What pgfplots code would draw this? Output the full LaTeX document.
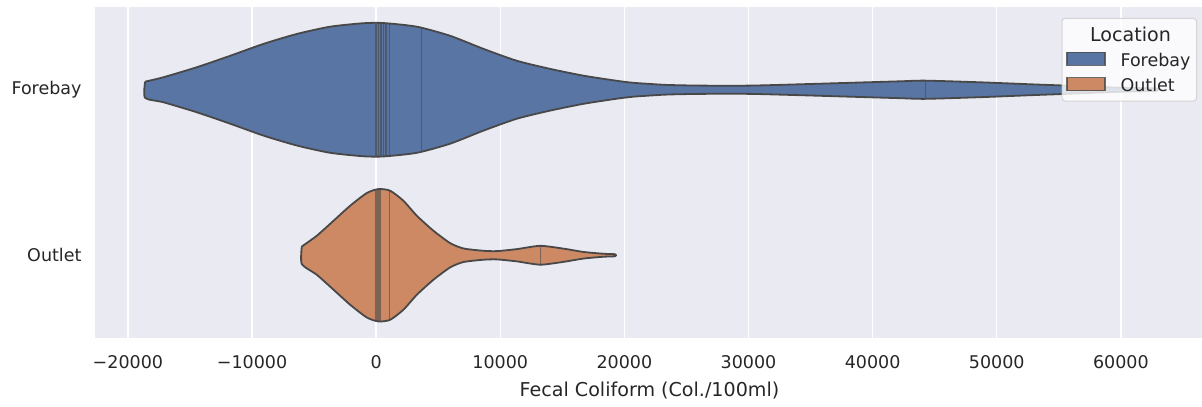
\documentclass[border=0pt]{standalone}
\usepackage{pgfplots}
\pgfplotsset{compat=1.18}
\usepackage{fontspec}
\setmainfont{DejaVu Sans}
\definecolor{bgc}{RGB}{234,234,242}
\definecolor{fb}{RGB}{89,117,164}
\definecolor{ol}{RGB}{204,137,99}
\definecolor{edge}{RGB}{72,72,72}
\definecolor{txt}{RGB}{38,38,38}
\definecolor{legframe}{RGB}{204,204,204}
\pgfplotsset{mypatch/.style={legend image code/.code={\draw[##1, sharp corners, fill opacity=1] (0pt,-5pt) rectangle (38pt,8pt);}}}
\begin{document}
\begin{tikzpicture}
\begin{axis}[
  scale only axis, width=1109pt, height=331pt,
  xmin=-22650, xmax=66700, ymin=-0.5, ymax=1.5,
  axis background/.style={fill=bgc},
  axis line style={draw=none},
  major tick length=0pt,
  scaled x ticks=false,
  xtick={-20000,-10000,0,10000,20000,30000,40000,50000,60000},
  xticklabels={−20000,−10000,0,10000,20000,30000,40000,50000,60000},
  ytick={0,1}, yticklabels={Outlet,Forebay},
  xmajorgrids, ymajorgrids=false,
  grid style={white, line width=1.5pt},
  tick label style={font=\fontsize{17.5}{20}\selectfont, text=txt},
  xticklabel style={anchor=center, yshift=-24pt},
  yticklabel style={anchor=east, xshift=-10pt},
  xlabel={Fecal Coliform (Col./100ml)},
  xlabel style={font=\fontsize{19.1}{22}\selectfont, text=txt, at={(rel axis cs:0.5,0)}, anchor=center, yshift=-52pt},
  legend cell align=left,
  legend style={at={(rel axis cs:0.99369,0.96677)}, anchor=north east,
    fill=white, fill opacity=0.8, draw opacity=0.8, text opacity=1,
    draw=legframe, line width=1pt, rounded corners=3pt,
    font=\fontsize{17.5}{20}\selectfont, text=txt,
    inner xsep=4pt, inner ysep=6pt, row sep=6.5pt,
    /tikz/every odd column/.append style={column sep=13pt}},
]
% Forebay violin
\addplot[fill=fb, draw=edge, line width=1.8pt, line join=round, smooth, tension=0.4, forget plot] coordinates {
(-18614,1.049) (-17140,1.0755) (-14448,1.136) (-11765,1.205) (-9081,1.277) (-6390,1.337) (-3707,1.381) (-1023,1.402) (600,1.403) (3280,1.381) (5963,1.326) (8646,1.247) (11338,1.175) (14021,1.126) (16704,1.085) (19396,1.054) (20711,1.042) (22079,1.035) (23449,1.029) (26108,1.025) (30137,1.025) (34166,1.033) (38195,1.042) (42224,1.051) (44238,1.055) (48670,1.045) (52699,1.033) (54875,1.027) (56500,1.022) (58500,1.016) (60500,1.011) (62840,1.0075)
(62840,0.9925) (60500,0.989) (58500,0.984) (56500,0.978) (54875,0.973) (52699,0.967) (48670,0.955) (44238,0.945) (42224,0.949) (38195,0.958) (34166,0.967) (30137,0.975) (26108,0.975) (23449,0.971) (22079,0.965) (20711,0.958) (19396,0.946) (16704,0.915) (14021,0.874) (11338,0.825) (8646,0.753) (5963,0.674) (3280,0.619) (600,0.597) (-1023,0.598) (-3707,0.619) (-6390,0.663) (-9081,0.723) (-11765,0.795) (-14448,0.864) (-17140,0.9245) (-18614,0.951) (-18614,1.049)
};
% Outlet violin
\addplot[fill=ol, draw=edge, line width=1.8pt, line join=round, smooth, tension=0.4, forget plot] coordinates {
(-5987,0.053) (-4780,0.118) (-3437,0.208) (-2095,0.299) (-752,0.376) (188,0.400) (1128,0.390) (2202,0.329) (3276,0.239) (4619,0.148) (5963,0.0735) (7037,0.041) (8648,0.027) (9723,0.025) (11335,0.037) (13215,0.057) (15093,0.040) (16705,0.020) (18317,0.009) (19260,0.006)
(19260,-0.006) (18317,-0.009) (16705,-0.020) (15093,-0.040) (13215,-0.057) (11335,-0.037) (9723,-0.025) (8648,-0.027) (7037,-0.041) (5963,-0.0735) (4619,-0.148) (3276,-0.239) (2202,-0.329) (1128,-0.390) (188,-0.400) (-752,-0.376) (-2095,-0.299) (-3437,-0.208) (-4780,-0.118) (-5987,-0.053) (-5987,0.053)
};
% sticks (observations)
\addplot[draw=none, mark=none, forget plot, error bars/.cd, y dir=both, y explicit, error mark=none,
  error bar style={draw=edge, line width=1.3pt, draw opacity=0.6}] coordinates {
(0,1) +- (0,0.400) (200,1) +- (0,0.401) (400,1) +- (0,0.402)
(600,1) +- (0,0.402) (800,1) +- (0,0.402)
(1070,1) +- (0,0.402) (3680,1) +- (0,0.376) (44240,1) +- (0,0.055)
(0,0) +- (0,0.399) (150,0) +- (0,0.400) (300,0) +- (0,0.400)
(1070,0) +- (0,0.391) (13215,0) +- (0,0.057)
};
\addlegendimage{empty legend}
\addlegendentry{\makebox[0pt][l]{\hspace*{-30.5pt}\fontsize{19.1}{22}\selectfont Location}}
\addlegendimage{mypatch, fill=fb, draw=edge, line width=1.5pt}
\addlegendentry{Forebay}
\addlegendimage{mypatch, fill=ol, draw=edge, line width=1.5pt}
\addlegendentry{Outlet}
\coordinate (bl) at (rel axis cs:0,0);
\coordinate (tr) at (rel axis cs:1,1);
\end{axis}
\pgfresetboundingbox
\path[use as bounding box] ([xshift=-95pt,yshift=-68pt]bl) rectangle ([xshift=-2pt,yshift=7pt]tr);
\end{tikzpicture}
\end{document}
